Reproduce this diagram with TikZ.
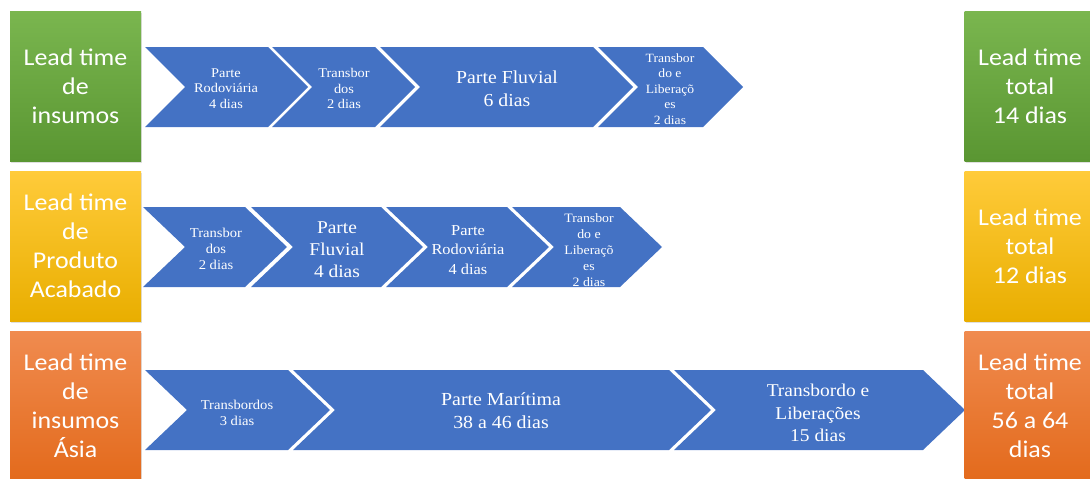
\documentclass[tikz,border=0pt]{standalone}
\usepackage{fontspec}
\usetikzlibrary{shadows}
\newfontfamily\boxfont[FakeStretch=1.08]{Carlito}
\newfontfamily\chevfont[FakeStretch=1.08]{Liberation Serif}
\definecolor{chevblue}{HTML}{4472C4}
\definecolor{greentop}{HTML}{7AB64F}
\definecolor{greenbot}{HTML}{5A9632}
\definecolor{yellowtop}{HTML}{FFCB3A}
\definecolor{yellowbot}{HTML}{E9AE00}
\definecolor{orangetop}{HTML}{F08B4F}
\definecolor{orangebot}{HTML}{E36A1C}
\tikzset{
  chev/.style={fill=chevblue},
  ctext/.style={text=white, align=center, inner sep=0pt},
  ltbox/.style={minimum width=131pt, minimum height=150pt, inner sep=0pt,
    text=white, align=center, font=\boxfont\fontsize{24}{29}\selectfont,
    drop shadow={opacity=0.25, shadow xshift=1pt, shadow yshift=-2pt}},
  greenbox/.style={ltbox, top color=greentop, bottom color=greenbot},
  yellowbox/.style={ltbox, top color=yellowtop, bottom color=yellowbot},
  orangebox/.style={ltbox, top color=orangetop, bottom color=orangebot},
}
% chevron: left x, corner x, top y, bottom y, point depth
\newcommand\chevshape[5]{%
  \fill[chev] (#1,#3) -- (#2,#3) -- ({#2+#5},{(#3+#4)/2}) -- (#2,#4)
    -- (#1,#4) -- ({#1+#5},{(#3+#4)/2}) -- cycle;}
\newcommand\cf[2]{\chevfont\fontsize{#1}{#2}\selectfont}
\begin{document}
\begin{tikzpicture}[x=1pt,y=-1pt]
\useasboundingbox (0,0) rectangle (1090,479);
\clip (0,0) rectangle (1090,479);

% row 1: insumos
\chevshape{145}{268}{47}{127}{40}
\chevshape{272}{375}{47}{127}{40}
\chevshape{380}{593}{47}{127}{40}
\chevshape{598}{703}{47}{127}{40}
\node[ctext, font=\cf{13.3}{15.5}] (r1a) at (226,88.5) {Parte\\Rodoviária\\4 dias};
\node[ctext, font=\cf{13.3}{15.5}] (r1b) at (344,88.5) {Transbor\\dos\\2 dias};
\node[ctext, font=\cf{18.3}{23}] (r1c) at (507,88.5) {Parte Fluvial\\6 dias};
\node[ctext, font=\cf{12.6}{15.5}] (r1d) at (670,89) {Transbor\\do e\\Liberaçõ\\es\\2 dias};

% row 2: produto acabado
\chevshape{143}{245}{207}{287}{42}
\chevshape{251}{381}{207}{287}{42}
\chevshape{386}{507}{207}{287}{42}
\chevshape{512}{620}{207}{287}{42}
\node[ctext, font=\cf{13.5}{16}] (r2a) at (216,248.5) {Transbor\\dos\\2 dias};
\node[ctext, font=\cf{18}{22}] (r2b) at (337,249.5) {Parte\\Fluvial\\4 dias};
\node[ctext, font=\cf{15.2}{19.5}] (r2c) at (468,250) {Parte\\Rodoviária\\4 dias};
\node[ctext, font=\cf{12.8}{16}] (r2d) at (589,250.5) {Transbor\\do e\\Liberaçõ\\es\\2 dias};

% row 3: insumos Asia
\chevshape{145}{288}{370}{450}{42}
\chevshape{293}{669}{370}{450}{42}
\chevshape{674}{923}{370}{450}{42}
\node[ctext, font=\cf{13.5}{16}] (r3a) at (237,412.5) {Transbordos\\3 dias};
\node[ctext, font=\cf{18.4}{23}] (r3b) at (501,411) {Parte Marítima\\38 a 46 dias};
\node[ctext, font=\cf{18}{22.5}] (r3c) at (818,413) {Transbordo e\\Liberações\\15 dias};

% lead time boxes
\node[greenbox] (in1) at (75.5,86) {Lead time\\de\\insumos};
\node[yellowbox] (in2) at (75.5,246) {Lead time\\de\\Produto\\Acabado};
\node[orangebox] (in3) at (75.5,406) {Lead time\\de\\insumos\\Ásia};
\node[greenbox] (out1) at (1030,86) {Lead time\\total\\14 dias};
\node[yellowbox] (out2) at (1030,246) {Lead time\\total\\12 dias};
\node[orangebox] (out3) at (1030,406) {Lead time\\total\\56 a 64\\dias};
\end{tikzpicture}
\end{document}
